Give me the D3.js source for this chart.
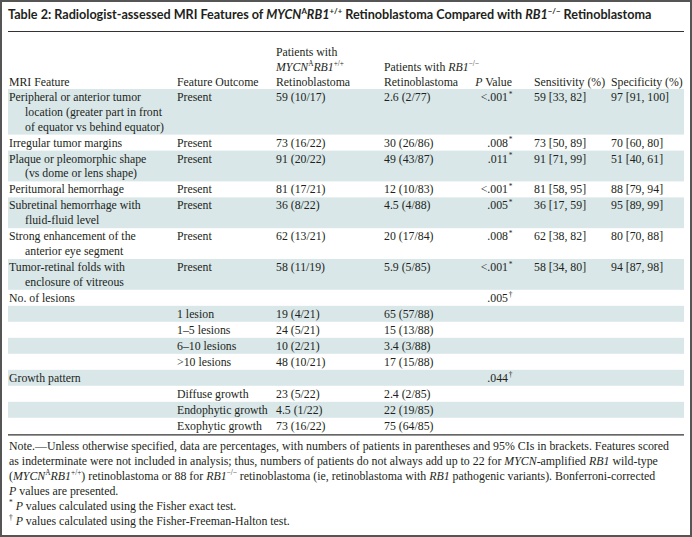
<!DOCTYPE html>
<html><head><meta charset="utf-8">
<script src="https://cdn.jsdelivr.net/npm/d3@7"></script>
<style>body{margin:0;background:#fff} svg{display:block} .serif{font-family:"Liberation Serif","DejaVu Serif",serif;} .sans{font-family:"Lato","Noto Sans",sans-serif;}</style>
</head><body><svg id="c" width="692" height="537"></svg>
<script>
// ---------- data ----------
const titleText = "Table 2: Radiologist-assessed MRI Features of _MYCN_^A^_RB1_^+/+^ Retinoblastoma Compared with _RB1_^−/−^ Retinoblastoma";
const columnKeys = ["feature","outcome","mycn","rb1","p","sens","spec"];
const headers = [
  ["MRI Feature"],
  ["Feature Outcome"],
  ["Patients with","_MYCN_^A^_RB1_^+/+^","Retinoblastoma"],
  ["Patients with _RB1_^−/−^","Retinoblastoma"],
  ["_P_ Value"],
  ["Sensitivity (%)"],
  ["Specificity (%)"]
];
const features = [
  ["Peripheral or anterior tumor","location (greater part in front","of equator vs behind equator)"],
  ["Irregular tumor margins"],
  ["Plaque or pleomorphic shape","(vs dome or lens shape)"],
  ["Peritumoral hemorrhage"],
  ["Subretinal hemorrhage with","fluid-fluid level"],
  ["Strong enhancement of the","anterior eye segment"],
  ["Tumor-retinal folds with","enclosure of vitreous"],
  ["No. of lesions"],
  [""],[""],[""],[""],
  ["Growth pattern"],
  [""],[""],[""]
];
const outcomes = ["Present","Present","Present","Present","Present","Present","Present","",
  "1 lesion","1–5 lesions","6–10 lesions",">10 lesions","",
  "Diffuse growth","Endophytic growth","Exophytic growth"];
const mycnValues = ["59 (10/17)","73 (16/22)","91 (20/22)","81 (17/21)","36 (8/22)","62 (13/21)","58 (11/19)","",
  "19 (4/21)","24 (5/21)","10 (2/21)","48 (10/21)","",
  "23 (5/22)","4.5 (1/22)","73 (16/22)"];
const rb1Values = ["2.6 (2/77)","30 (26/86)","49 (43/87)","12 (10/83)","4.5 (4/88)","20 (17/84)","5.9 (5/85)","",
  "65 (57/88)","15 (13/88)","3.4 (3/88)","17 (15/88)","",
  "2.4 (2/85)","22 (19/85)","75 (64/85)"];
const pValues = ["<.001",".008",".011","<.001",".005",".008","<.001",".005","","","","",".044","","",""];
const pMarks  = ["*","*","*","*","*","*","*","†","","","","","†","","",""];
const sensitivity = ["59 [33, 82]","73 [50, 89]","91 [71, 99]","81 [58, 95]","36 [17, 59]","62 [38, 82]","58 [34, 80]","","","","","","","","",""];
const specificity = ["97 [91, 100]","70 [60, 80]","51 [40, 61]","88 [79, 94]","95 [89, 99]","80 [70, 88]","94 [87, 98]","","","","","","","","",""];
const noteLines = [
  "Note.—Unless otherwise specified, data are percentages, with numbers of patients in parentheses and 95% CIs in brackets. Features scored",
  "as indeterminate were not included in analysis; thus, numbers of patients do not always add up to 22 for _MYCN_-amplified _RB1_ wild-type",
  "(_MYCN_^A^_RB1_^+/+^) retinoblastoma or 88 for _RB1_^−/−^ retinoblastoma (ie, retinoblastoma with _RB1_ pathogenic variants). Bonferroni-corrected",
  "_P_ values are presented.",
  "^*^ _P_ values calculated using the Fisher exact test.",
  "^†^ _P_ values calculated using the Fisher-Freeman-Halton test."
];

// ---------- layout ----------
const W = 692, H = 537;
const svg = d3.select("#c");
const INK = "#231f20";
const SHADE = "#d9e7e9";
const left = 8, right = 684;

const colX = d3.scaleOrdinal().domain(columnKeys).range([9, 177, 276, 384, 508, 534, 611]);
const colAnchor = d3.scaleOrdinal().domain(columnKeys).range(["start","start","start","start","end","start","start"]);

// rich text: _italic_  ^superscript^
function rich(textSel, str, fs) {
  const segs = []; let it = false, sup = false, buf = "";
  const push = () => { if (buf) segs.push({t: buf, it, sup}); buf = ""; };
  for (const ch of str) {
    if (ch === "_") { push(); it = !it; }
    else if (ch === "^") { push(); sup = !sup; }
    else buf += ch;
  }
  push();
  let raised = false;
  segs.forEach(s => {
    const ts = textSel.append("tspan").text(s.t).attr("font-style", s.it ? "italic" : "normal");
    if (s.sup) {
      ts.attr("font-size", fs * 0.62);
      if (!raised) { ts.attr("dy", -fs * 0.38); raised = true; }
    } else {
      ts.attr("font-size", fs);
      if (raised) { ts.attr("dy", fs * 0.38); raised = false; }
    }
  });
  return textSel;
}
function measure(str, cls, weight, fs) {
  const t = svg.append("text").attr("class", cls).attr("font-weight", weight);
  rich(t, str, fs);
  const w = t.node().getComputedTextLength();
  t.remove();
  return w;
}
function fitSize(str, cls, weight, target) {
  return 20 * target / measure(str, cls, weight, 20);
}

const fsTitle = fitSize(titleText, "sans", 700, 644);
const fsBody = 11.8;
const fsNote = fitSize(noteLines[0], "serif", 400, 660);

// outer frame
svg.append("rect").attr("x", 1).attr("y", 1).attr("width", W - 2).attr("height", H - 2)
  .attr("fill", "#fff").attr("stroke", "#555").attr("stroke-width", 2);

// title
rich(svg.append("text").attr("class", "sans").attr("x", left).attr("y", 19).attr("fill", INK)
  .attr("font-weight", 700), titleText, fsTitle);

svg.append("line").attr("x1", left).attr("x2", right).attr("y1", 31.5).attr("y2", 31.5)
  .attr("stroke", "#333").attr("stroke-width", 1.2);

// rows geometry
const rowTop0 = 89, singleH = 16, extraH = 14.8, baseOff = 12;
const rowsTop = []; let y = rowTop0;
features.forEach(f => { rowsTop.push(y); y += singleH + (f.length - 1) * extraH; });
const tableBottom = y;

// header (bottom aligned)
const headBase = 86;
headers.forEach((lines, ci) => {
  const key = columnKeys[ci];
  lines.forEach((ln, li) => {
    const by = headBase - (lines.length - 1 - li) * 15.2;
    rich(svg.append("text").attr("class", "serif").attr("x", key === "p" ? colX(key) + 4 : colX(key)).attr("y", by)
      .attr("text-anchor", colAnchor(key)).attr("fill", INK), ln, fsBody);
  });
});

// shading
const g = svg.append("g");
features.forEach((f, i) => {
  if (i % 2 === 0) {
    const h = singleH + (f.length - 1) * extraH;
    g.append("rect").attr("x", left).attr("y", rowsTop[i]).attr("width", right - left).attr("height", h)
      .attr("fill", SHADE);
  }
});

// cells
function cell(key, i, str, lineIdx = 0, indent = 0) {
  if (!str) return;
  const t = svg.append("text").attr("class", "serif").attr("x", colX(key) + indent)
    .attr("y", rowsTop[i] + baseOff + lineIdx * extraH)
    .attr("text-anchor", colAnchor(key)).attr("fill", INK);
  rich(t, str, fsBody);
}
features.forEach((lines, i) => {
  lines.forEach((ln, li) => cell("feature", i, ln, li, li > 0 ? 16 : 0));
  cell("outcome", i, outcomes[i]);
  cell("mycn", i, mycnValues[i]);
  cell("rb1", i, rb1Values[i]);
  cell("p", i, pValues[i]);
  if (pMarks[i]) {
    svg.append("text").attr("class", "serif").attr("x", colX("p") + 0.8).attr("y", rowsTop[i] + baseOff - fsBody * 0.38)
      .attr("fill", INK).attr("font-size", fsBody * 0.62).text(pMarks[i]);
  }
  cell("sens", i, sensitivity[i]);
  cell("spec", i, specificity[i]);
});

const bottomLineY = tableBottom + 1;
svg.append("line").attr("x1", left).attr("x2", right).attr("y1", bottomLineY).attr("y2", bottomLineY)
  .attr("stroke", "#333").attr("stroke-width", 1.2);

// notes
noteLines.forEach((ln, i) => {
  rich(svg.append("text").attr("class", "serif").attr("x", 9).attr("y", bottomLineY + 15 + i * 15)
    .attr("fill", INK), ln, fsNote);
});
</script></body></html>
